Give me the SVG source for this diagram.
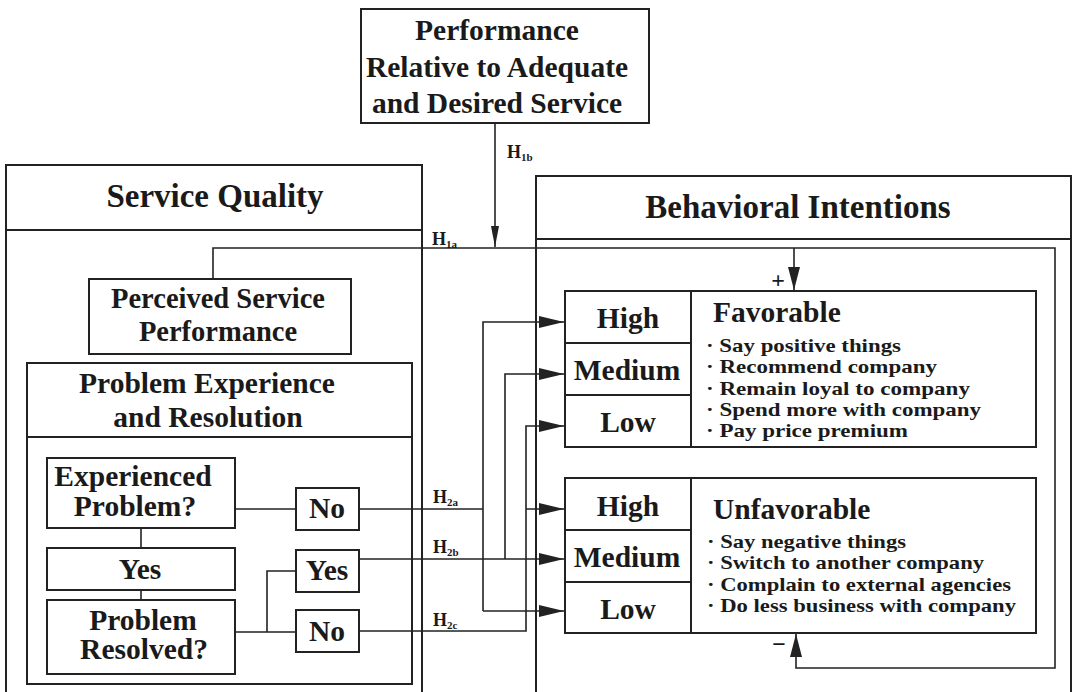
<svg xmlns="http://www.w3.org/2000/svg" width="1079" height="692" viewBox="0 0 1079 692">
<style>
  .box { fill: none; stroke: #222; stroke-width: 2; }
  .ln { fill: none; stroke: #222; stroke-width: 1.6; }
  .t { font-family: "Liberation Serif", "Times New Roman", serif; font-weight: bold; fill: #1a1a1a; text-anchor: middle; }
  .big { font-size: 33px; }
  .m { font-size: 29.5px; }
  .b { font-family: "Liberation Serif", "Times New Roman", serif; font-weight: bold; fill: #1a1a1a; font-size: 19px; }
  .lab { font-family: "Liberation Serif", "Times New Roman", serif; font-weight: bold; fill: #1a1a1a; font-size: 18px; }
  .sub { font-size: 11px; }
</style>
<defs>
  <marker id="ah" markerUnits="userSpaceOnUse" markerWidth="26" markerHeight="14" refX="25" refY="7" orient="auto">
    <path d="M0,1 L25,7 L0,13 z" fill="#222"/>
  </marker>
  <marker id="av" markerUnits="userSpaceOnUse" markerWidth="24" markerHeight="14" refX="23" refY="7" orient="auto">
    <path d="M0,1 L23,7 L0,13 z" fill="#222"/>
  </marker>
  <marker id="an" markerUnits="userSpaceOnUse" markerWidth="22" markerHeight="10" refX="21" refY="5" orient="auto">
    <path d="M0,1 L21,5 L0,9 z" fill="#222"/>
  </marker>
</defs>
<rect width="1079" height="692" fill="#ffffff"/>

<g id="performance">
  <rect class="box" x="361" y="9" width="288" height="114"/>
  <text class="t m" x="497" y="40">Performance</text>
  <text class="t m" x="497" y="77">Relative to Adequate</text>
  <text class="t m" x="497" y="113">and Desired Service</text>
</g>

<g id="service-quality">
  <rect class="box" x="6" y="165" width="416" height="540"/>
  <line class="box" x1="6" y1="230" x2="422" y2="230"/>
  <text class="t big" x="215" y="207">Service Quality</text>
</g>

<g id="perceived">
  <rect class="box" x="89" y="279" width="262" height="75"/>
  <text class="t" style="font-size:28.5px" x="218" y="308">Perceived Service</text>
  <text class="t" style="font-size:28.5px" x="218" y="341">Performance</text>
</g>

<g id="problem-experience">
  <rect class="box" x="27" y="363" width="385" height="321"/>
  <line class="box" x1="27" y1="437" x2="412" y2="437"/>
  <text class="t m" x="207" y="393">Problem Experience</text>
  <text class="t m" x="208" y="427">and Resolution</text>
</g>

<g id="experienced">
  <rect class="box" x="47" y="458" width="188" height="70"/>
  <text class="t m" x="133" y="486">Experienced</text>
  <text class="t m" x="135" y="516">Problem?</text>
</g>

<g id="yes-left">
  <rect class="box" x="47" y="548" width="188" height="42"/>
  <text class="t m" x="140" y="579">Yes</text>
</g>

<g id="resolved">
  <rect class="box" x="47" y="600" width="188" height="74"/>
  <text class="t m" x="143" y="630">Problem</text>
  <text class="t m" x="144" y="659">Resolved?</text>
</g>

<g id="no-upper">
  <rect class="box" x="296" y="488" width="63" height="42"/>
  <text class="t m" x="327" y="518">No</text>
</g>

<g id="yes-right">
  <rect class="box" x="296" y="550" width="63" height="42"/>
  <text class="t m" x="327" y="580">Yes</text>
</g>

<g id="no-lower">
  <rect class="box" x="296" y="610" width="63" height="42"/>
  <text class="t m" x="327" y="641">No</text>
</g>

<g id="behavioral-intentions">
  <rect class="box" x="536" y="176" width="535" height="540"/>
  <line class="box" x1="536" y1="239" x2="1071" y2="239"/>
  <text class="t big" x="798" y="218">Behavioral Intentions</text>
</g>

<g id="favorable">
  <rect class="box" x="565" y="291" width="471" height="156"/>
  <line class="box" x1="691" y1="291" x2="691" y2="447"/>
  <line class="box" x1="565" y1="343" x2="691" y2="343"/>
  <line class="box" x1="565" y1="395" x2="691" y2="395"/>
  <text class="t m" x="628" y="328">High</text>
  <text class="t m" x="627" y="380">Medium</text>
  <text class="t m" x="628" y="432">Low</text>
  <text class="t m" x="713" y="322" style="text-anchor:start">Favorable</text>
  <text class="b" x="706" y="352" textLength="195" lengthAdjust="spacingAndGlyphs">· Say positive things</text>
  <text class="b" x="706" y="373.3" textLength="231" lengthAdjust="spacingAndGlyphs">· Recommend company</text>
  <text class="b" x="706" y="394.6" textLength="264" lengthAdjust="spacingAndGlyphs">· Remain loyal to company</text>
  <text class="b" x="706" y="415.9" textLength="275" lengthAdjust="spacingAndGlyphs">· Spend more with company</text>
  <text class="b" x="706" y="437.2" textLength="202" lengthAdjust="spacingAndGlyphs">· Pay price premium</text>
</g>

<g id="unfavorable">
  <rect class="box" x="565" y="478" width="471" height="155"/>
  <line class="box" x1="691" y1="478" x2="691" y2="633"/>
  <line class="box" x1="565" y1="530" x2="691" y2="530"/>
  <line class="box" x1="565" y1="582" x2="691" y2="582"/>
  <text class="t m" x="628" y="516">High</text>
  <text class="t m" x="627" y="567">Medium</text>
  <text class="t m" x="628" y="619">Low</text>
  <text class="t m" x="713" y="519" style="text-anchor:start">Unfavorable</text>
  <text class="b" x="707" y="548" textLength="199" lengthAdjust="spacingAndGlyphs">· Say negative things</text>
  <text class="b" x="707" y="569.3" textLength="277" lengthAdjust="spacingAndGlyphs">· Switch to another company</text>
  <text class="b" x="707" y="590.6" textLength="304" lengthAdjust="spacingAndGlyphs">· Complain to external agencies</text>
  <text class="b" x="707" y="611.9" textLength="309" lengthAdjust="spacingAndGlyphs">· Do less business with company</text>
</g>

<g id="connectors">
  <path class="ln" d="M495,123 V247" marker-end="url(#an)"/>
  <path class="ln" d="M213,279 V248 H1055 V668 H796 V634" marker-end="url(#av)"/>
  <path class="ln" d="M794,248 V290" marker-end="url(#av)"/>
  <path class="ln" d="M141,528 V548 M141,590 V600"/>
  <path class="ln" d="M235,509 H296"/>
  <path class="ln" d="M359,509 H483"/>
  <path class="ln" d="M483,611 V322 H564" marker-end="url(#ah)"/>
  <path class="ln" d="M483,611 H564" marker-end="url(#ah)"/>
  <path class="ln" d="M359,559 H564" marker-end="url(#ah)"/>
  <path class="ln" d="M505,559 V374 H564" marker-end="url(#ah)"/>
  <path class="ln" d="M359,631 H526 V426 H564" marker-end="url(#ah)"/>
  <path class="ln" d="M526,509 H564" marker-end="url(#ah)"/>
  <path class="ln" d="M235,632 H296 M267,632 V571 H296"/>
  <text class="lab" x="432" y="245">H<tspan class="sub" dy="3">1a</tspan></text>
  <text class="lab" x="507" y="158">H<tspan class="sub" dy="3">1b</tspan></text>
  <text class="lab" x="433" y="503">H<tspan class="sub" dy="3">2a</tspan></text>
  <text class="lab" x="433" y="553">H<tspan class="sub" dy="3">2b</tspan></text>
  <text class="lab" x="433" y="626">H<tspan class="sub" dy="3">2c</tspan></text>
  <text class="t" style="font-size:24px" x="778" y="288">+</text>
  <text class="t" style="font-size:24px" x="779" y="652">−</text>
</g>
</svg>
